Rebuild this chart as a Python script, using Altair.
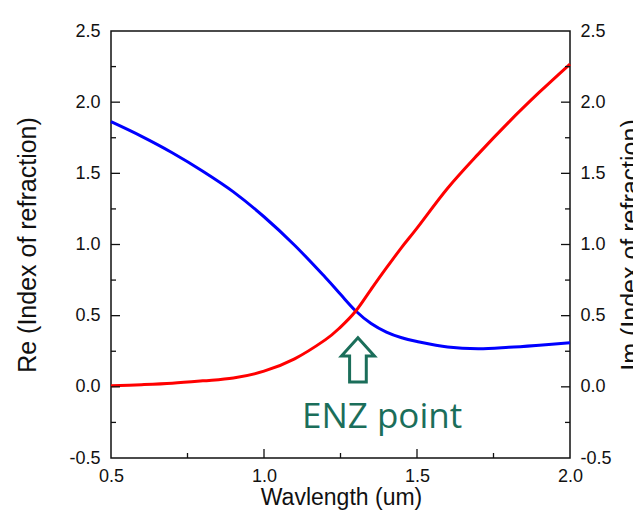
import altair as alt
import pandas as pd

# ---- data ----
wavelength = [0.5, 0.6, 0.7, 0.8, 0.9, 1.0, 1.1, 1.2, 1.25, 1.3, 1.35, 1.4, 1.45, 1.5, 1.6, 1.7, 1.8, 1.9, 2.0]
re_index = [1.863, 1.76, 1.645, 1.515, 1.37, 1.195, 0.995, 0.77, 0.65, 0.533, 0.445, 0.385, 0.345, 0.318, 0.28, 0.268, 0.278, 0.293, 0.31]
im_index = [0.008, 0.015, 0.025, 0.042, 0.062, 0.11, 0.197, 0.33, 0.42, 0.533, 0.685, 0.835, 0.98, 1.115, 1.395, 1.635, 1.86, 2.07, 2.268]
series_names = ["Re", "Im"]
series_colors = ["#0000ff", "#ff0000"]

x_ticks = [0.5, 1.0, 1.5, 2.0]
y_ticks = [-0.5, 0.0, 0.5, 1.0, 1.5, 2.0, 2.5]
x_major_inner = [1.0, 1.5]
x_minor_inner = [0.75, 1.25, 1.75]
y_major_inner = [0.0, 0.5, 1.0, 1.5, 2.0]
y_minor_inner = [-0.25, 0.25, 0.75, 1.25, 1.75, 2.25]

enz_label = ["ENZ point"]
enz_label_pos = [1.386, -0.215]
enz_arrow_pos = [1.307, 0.19]

W, H = 459, 427
FONT = "Liberation Sans"
GREEN = "#1b6e5a"
LABEL_EXPR = "datum.value < 0 ? '-' + format(-datum.value, '.1f') : format(datum.value, '.1f')"

n = len(wavelength)
curves = pd.DataFrame({
    "w": wavelength * 2,
    "v": re_index + im_index,
    "series": [series_names[0]] * n + [series_names[1]] * n,
})

x_scale = alt.Scale(domain=[0.5, 2.0], nice=False, zero=False)
y_scale = alt.Scale(domain=[-0.5, 2.5], nice=False, zero=False)

common_axis = dict(
    ticks=False, tickSize=0, domain=False, grid=False, labelExpr=LABEL_EXPR,
    labelFont=FONT, labelFontSize=18, labelColor="#111", labelFlush=False,
    titleFont=FONT, titleFontWeight="normal", titleColor="#111",
)

bottom_axis = alt.Axis(values=x_ticks, labelPadding=9, title="Wavlength (um)",
                       titleX=230, titleY=39, titleAlign="center", titleBaseline="middle",
                       titleFontSize=23, **common_axis)
left_axis = alt.Axis(values=y_ticks, labelPadding=11, title="Re (Index of refraction)",
                     titleX=-84, titleY=H / 2, titleAngle=270, titleAlign="center",
                     titleBaseline="middle", titleFontSize=25, **common_axis)
right_axis = alt.Axis(values=y_ticks, orient="right", labelPadding=10,
                      title="Im (Index of refraction)",
                      titleX=60, titleY=H / 2, titleAngle=270, titleAlign="center",
                      titleBaseline="middle", titleFontSize=25, **common_axis)

X = alt.X("w:Q", scale=x_scale, axis=bottom_axis)

lines = alt.Chart(curves).mark_line(strokeWidth=3, interpolate="cardinal").encode(
    x=X,
    y=alt.Y("v:Q", scale=y_scale, axis=left_axis),
    color=alt.Color("series:N", scale=alt.Scale(domain=series_names, range=series_colors), legend=None),
    detail="series:N",
)

def yticks(vals, x0, x1, axis=None):
    return alt.Chart(pd.DataFrame({"v": vals})).mark_rule(color="#111", strokeWidth=1.3).encode(
        y=alt.Y("v:Q", scale=y_scale, axis=axis),
        x=alt.value(x0), x2=alt.value(x1),
    )

def xticks(vals, length):
    return alt.Chart(pd.DataFrame({"w": vals})).mark_rule(color="#111", strokeWidth=1.3).encode(
        x=X,
        y=alt.value(H), y2=alt.value(H - length),
    )

right_major = yticks(y_major_inner, W, W - 9, axis=right_axis)
right_minor = yticks(y_minor_inner, W, W - 5)
left_major = yticks(y_major_inner, 0, 9)
left_minor = yticks(y_minor_inner, 0, 5)
bottom_major = xticks(x_major_inner, 9)
bottom_minor = xticks(x_minor_inner, 5)

label_df = pd.DataFrame({"w": [enz_label_pos[0]], "v": [enz_label_pos[1]], "txt": enz_label})
label = alt.Chart(label_df).mark_text(
    font="Open Sans", fontSize=35, color=GREEN, align="center", baseline="middle"
).encode(
    x=X,
    y=alt.Y("v:Q", scale=y_scale, axis=None),
    text="txt:N",
)

arrow_path = "M0,-1 L0.745,-0.17 L0.377,-0.17 L0.377,1 L-0.377,1 L-0.377,-0.17 L-0.745,-0.17 Z"
arrow_df = pd.DataFrame({"w": [enz_arrow_pos[0]], "v": [enz_arrow_pos[1]]})
arrow = alt.Chart(arrow_df).mark_point(
    shape=arrow_path, size=1960, filled=False, stroke=GREEN, strokeWidth=3, opacity=1
).encode(
    x=X,
    y=alt.Y("v:Q", scale=y_scale, axis=None),
)

chart = alt.layer(
    lines, right_major, right_minor, left_major, left_minor,
    bottom_major, bottom_minor, arrow, label
).resolve_scale(y="independent").properties(
    width=W, height=H,
    autosize=alt.AutoSizeParams(type="none"),
    padding={"left": 103, "top": 23, "right": 63, "bottom": 55},
    background="white",
).configure_view(stroke="#111", strokeWidth=1.5)

chart.save("out.html", embed_options={"renderer": "svg", "actions": False})
